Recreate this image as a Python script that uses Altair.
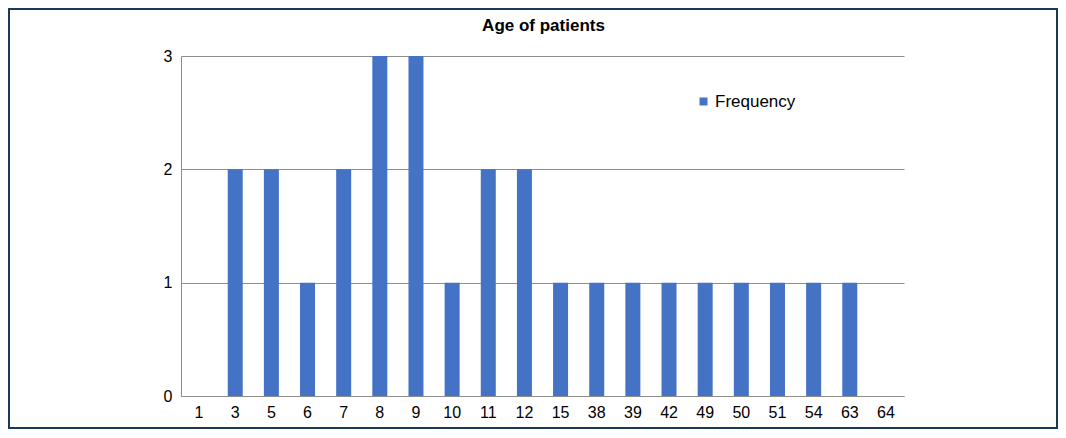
import altair as alt
import pandas as pd

ages = ["1", "3", "5", "6", "7", "8", "9", "10", "11", "12", "15", "38", "39", "42", "49", "50", "51", "54", "63", "64"]
frequency = [0, 2, 2, 1, 2, 3, 3, 1, 2, 2, 1, 1, 1, 1, 1, 1, 1, 1, 1, 0]
series = ["Frequency"] * len(ages)
title_text = "Age of patients"

df = pd.DataFrame({"age": ages, "freq": frequency, "series": series})

FONT = "Liberation Sans"
W, H = 723, 340
PAD = {"left": 173, "top": 48, "right": 154, "bottom": 33}

bars = alt.Chart(df).mark_bar(color="#4472C4").encode(
    x=alt.X("age:N", sort=ages, title=None,
            scale=alt.Scale(paddingInner=0.585, paddingOuter=0.2925),
            axis=alt.Axis(labelAngle=0, ticks=False, domainColor="#8c8c8c", labelPadding=8,
                          labelFontSize=16, labelColor="#000000", labelFont=FONT, grid=False)),
    y=alt.Y("freq:Q", title=None, scale=alt.Scale(domain=[0, 3], nice=False),
            axis=alt.Axis(values=[0, 1, 2, 3], ticks=False, domainColor="#8c8c8c", labelPadding=9,
                          gridColor="#8c8c8c", labelFontSize=16, labelColor="#000000", labelFont=FONT,
                          format="d")),
    color=alt.Color("series:N", title=None,
                    scale=alt.Scale(range=["#4472C4"]),
                    legend=alt.Legend(orient="none", legendX=514, legendY=37, symbolType="square",
                                      symbolSize=64, labelFontSize=17, labelFont=FONT,
                                      labelColor="#000000", padding=0, labelOffset=3)),
)

title = alt.Chart(pd.DataFrame({"t": [title_text]})).mark_text(
    font=FONT, fontSize=17, fontWeight="bold", color="#000000", align="center", baseline="alphabetic"
).encode(text="t:N", x=alt.value(W / 2 + 1), y=alt.value(-25))

border = alt.Chart(df).mark_rect(fill=None, stroke="#1b3a57", strokeWidth=2).encode(
    x=alt.value(-172), x2=alt.value(W + PAD["right"] - 1),
    y=alt.value(-PAD["top"] + 1), y2=alt.value(H + PAD["bottom"] - 1),
)

chart = alt.layer(bars, title, border).properties(
    width=W, height=H,
    autosize=alt.AutoSizeParams(type="none"),
    padding=PAD,
).configure_view(stroke=None).configure_axis(domainWidth=1)

chart.save("out.html", embed_options={"renderer": "svg", "actions": False})
